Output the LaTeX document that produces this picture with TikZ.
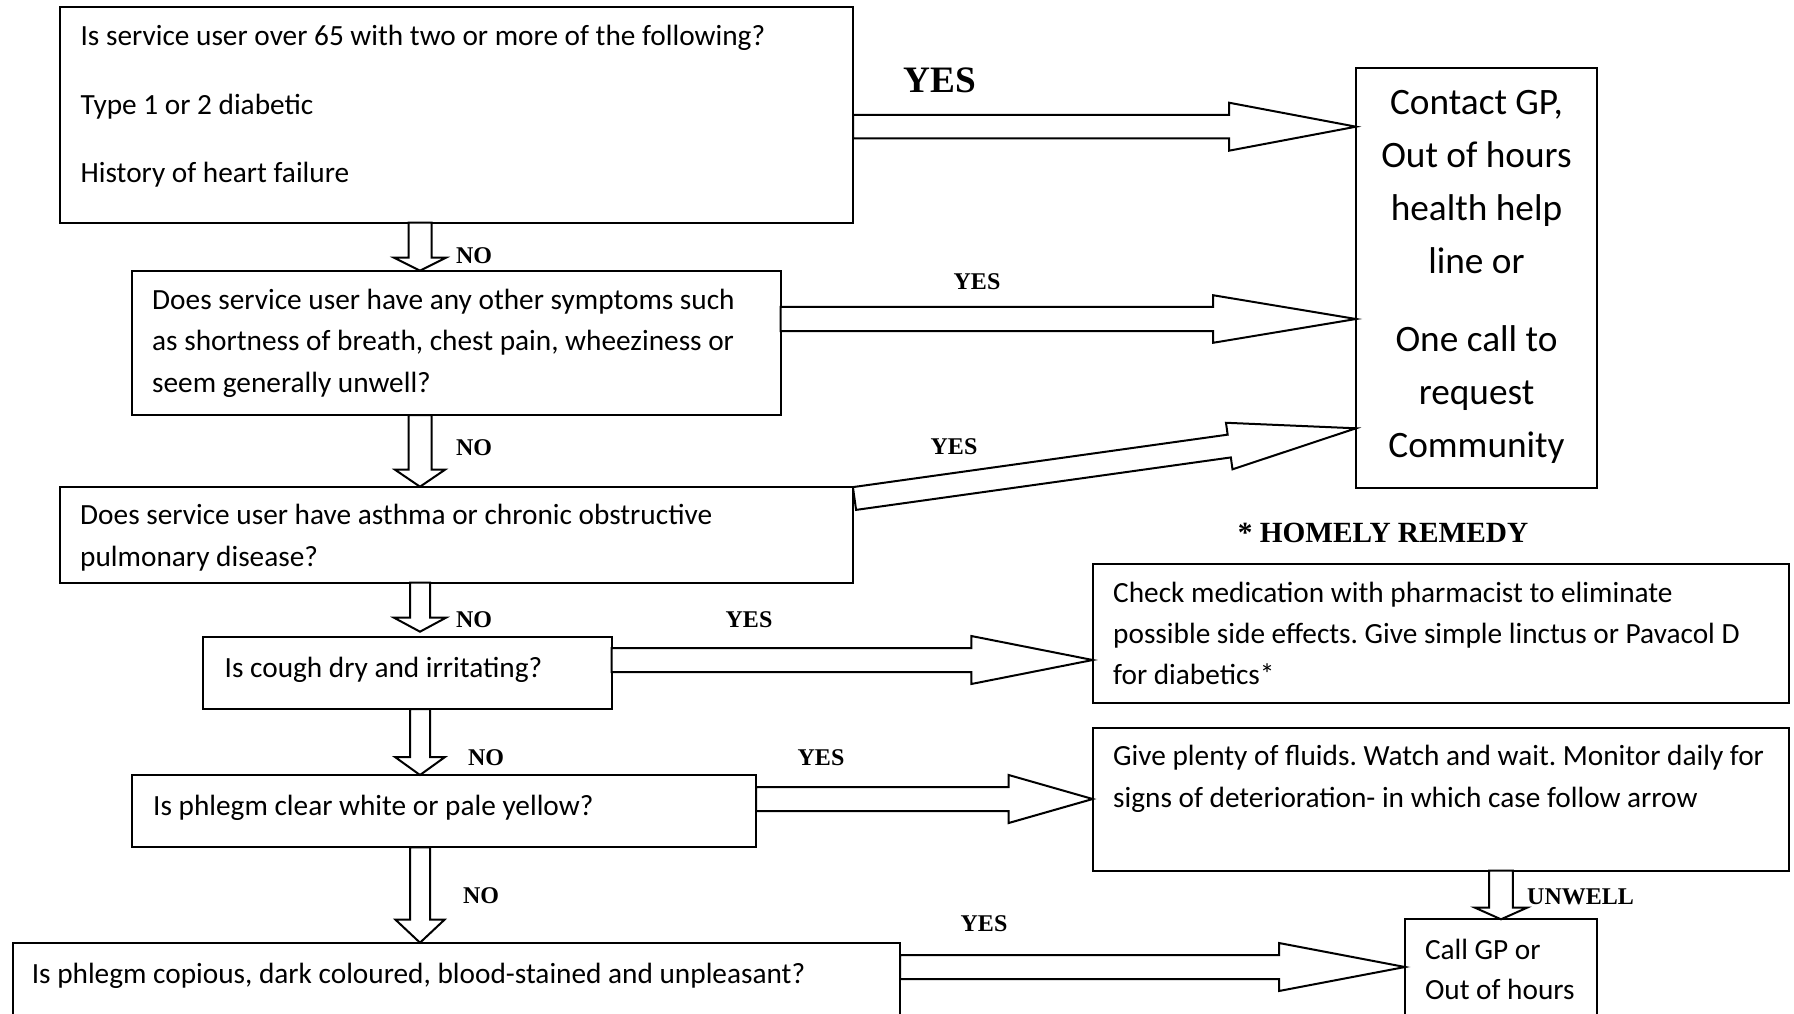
\documentclass[tikz,border=0pt]{standalone}
\usepackage{fontspec}
\setmainfont{Carlito}
\newfontfamily\labelfont{Liberation Serif}
\usetikzlibrary{calc}
\frenchspacing

\tikzset{
  box/.style={draw, line width=2pt, anchor=north west, inner sep=0pt, outer sep=0pt},
  % multi-line texts are placed by the baseline of their last line
  txt/.style={anchor=base west, align=left, inner sep=0pt, font=\fontsize{29.3}{41.7}\selectfont},
  tag/.style={anchor=base, inner sep=0pt, font=\labelfont\bfseries\fontsize{24}{28}\selectfont},
  % hollow block arrow: shaft half-width, head half-width, head length
  fat/.style n args={3}{draw, line width=2pt, fill=white, to path={
     coordinate (fa-s) (\tikztotarget) coordinate (fa-e)
     ($(fa-e)!#3!(fa-s)$) coordinate (fa-h)
     ($(fa-s)!#1!90:(fa-e)$) -- ($(fa-h)!#1!90:(fa-e)$) -- ($(fa-h)!#2!90:(fa-e)$)
     -- (fa-e)
     -- ($(fa-h)!#2!-90:(fa-e)$) -- ($(fa-h)!#1!-90:(fa-e)$) -- ($(fa-s)!#1!-90:(fa-e)$) -- cycle
  }}
}

\begin{document}
\begin{tikzpicture}[x=1pt, y=-1pt]
\useasboundingbox (0,0) rectangle (1794,1014);
\clip (0,0) rectangle (1794,1014);

% decision boxes
\node[box, minimum width=793.5pt, minimum height=215.5pt] (b1) at (59.5,7) {};
\node[box, minimum width=648.5pt, minimum height=144.3pt] (b2) at (132,270.7) {};
\node[box, minimum width=793pt, minimum height=96pt] (b3) at (60,486.7) {};
\node[box, minimum width=408.3pt, minimum height=71.7pt] (b4) at (203.4,637.3) {};
\node[box, minimum width=624.3pt, minimum height=72.3pt] (b5) at (131.9,775) {};
\node[box, minimum width=887.4pt, minimum height=120pt] (b6) at (12.6,942.7) {};

% outcome boxes
\node[box, minimum width=240.5pt, minimum height=420.3pt] (contact) at (1356,67.7) {};
\node[box, minimum width=696.1pt, minimum height=138.7pt] (b8) at (1092.7,564) {};
\node[box, minimum width=696.1pt, minimum height=143pt] (b9) at (1092.7,727.7) {};
\node[box, minimum width=191.6pt, minimum height=150pt] (b7) at (1405,919.3) {};

% box texts
\node[txt] (t1) at (80.4,182.6) {Is service user over 65 with two or more of the following?\\[26.6pt]
  Type 1 or 2 diabetic\\[26.6pt] History of heart failure};
\node[txt] (t2) at (152,392.4) {Does service user have any other symptoms such\\
  as shortness of breath, chest pain, wheeziness or\\ seem generally unwell?};
\node[txt] (t3) at (80,566) {Does service user have asthma or chronic obstructive\\ pulmonary disease?};
\node[txt] (t4) at (224.5,677.3) {Is cough dry and irritating?};
\node[txt] (t5) at (153,815.7) {Is phlegm clear white or pale yellow?};
\node[txt] (t6) at (31.6,983.3) {Is phlegm copious, dark coloured, blood-stained and unpleasant?};
\node[txt, font=\fontsize{29.3}{40}\selectfont] (t7) at (1424.8,999) {Call GP or\\ Out of hours};
\node[txt, font=\fontsize{29.3}{41}\selectfont] (t8) at (1113,684.3) {Check medication with pharmacist to eliminate\\
  possible side effects. Give simple linctus or Pavacol D\\ for diabetics*};
\node[txt] (t9) at (1113,807.4) {Give plenty of fluids. Watch and wait. Monitor daily for\\
  signs of deterioration- in which case follow arrow};
\node[txt, anchor=base, align=center, font=\fontsize{37.3}{53}\selectfont] (tc) at (1476.5,457)
  {Contact GP,\\ Out of hours\\ health help\\ line or\\[25pt] One call to\\ request\\ Community};

% NO arrows down the left column
\coordinate (spine) at (420,0);
\draw[fat={11.5pt}{26pt}{13pt}] (b1.south -| spine) to (b2.north -| spine);
\draw[fat={11.5pt}{25pt}{17pt}] (b2.south -| spine) to (b3.north -| spine);
\draw[fat={10pt}{26pt}{14pt}] (b3.south -| spine) to ($(b4.north -| spine)+(0,-5.6)$);
\draw[fat={10pt}{25pt}{18pt}] (b4.south -| spine) to (b5.north -| spine);
\draw[fat={10pt}{24.5pt}{23pt}] (b5.south -| spine) to (b6.north -| spine);
\coordinate (drop) at (1501,0);
\draw[fat={11.8pt}{26pt}{11.6pt}] (b9.south -| drop) to (b7.north -| drop);

% YES arrows to the right
\draw[fat={11.7pt}{24pt}{127pt}] (b1.east |- 0,126.7) to (contact.west |- 0,126.7);
\draw[fat={12.2pt}{23.8pt}{143pt}] (b2.east |- 0,319) to (contact.west |- 0,319);
\draw[fat={11.5pt}{23.5pt}{128pt}] ($(b3.north east)+(1.5,11.8)$) to (contact.west |- 0,428.3);
\draw[fat={12pt}{24pt}{121.4pt}] (b4.east |- 0,660) to (b8.west |- 0,660);
\draw[fat={12pt}{24pt}{84pt}] (b5.east |- 0,799) to (b9.west |- 0,799);
\draw[fat={12pt}{24pt}{126pt}] (b6.east |- 0,967) to (b7.west |- 0,967);

% branch labels
\node[tag, font=\labelfont\bfseries\fontsize{37.3}{40}\selectfont] (yes1) at (940,92.4) {YES};
\node[tag] (yes2) at (977,289.7) {YES};
\node[tag] (yes3) at (954,454.7) {YES};
\node[tag] (yes4) at (749,627.3) {YES};
\node[tag] (yes5) at (821,765.7) {YES};
\node[tag] (yes6) at (984,931.3) {YES};
\node[tag] (no1) at (474,263) {NO};
\node[tag] (no2) at (474,455.7) {NO};
\node[tag] (no3) at (474,627.3) {NO};
\node[tag] (no4) at (486,765.7) {NO};
\node[tag] (no5) at (481,903) {NO};
\node[tag, anchor=base west] (unwell) at (1527,904) {UNWELL};
\node[tag, font=\labelfont\bfseries\fontsize{29.3}{32}\selectfont] (homely) at (1383,542.8) {* HOMELY REMEDY};
\end{tikzpicture}
\end{document}
